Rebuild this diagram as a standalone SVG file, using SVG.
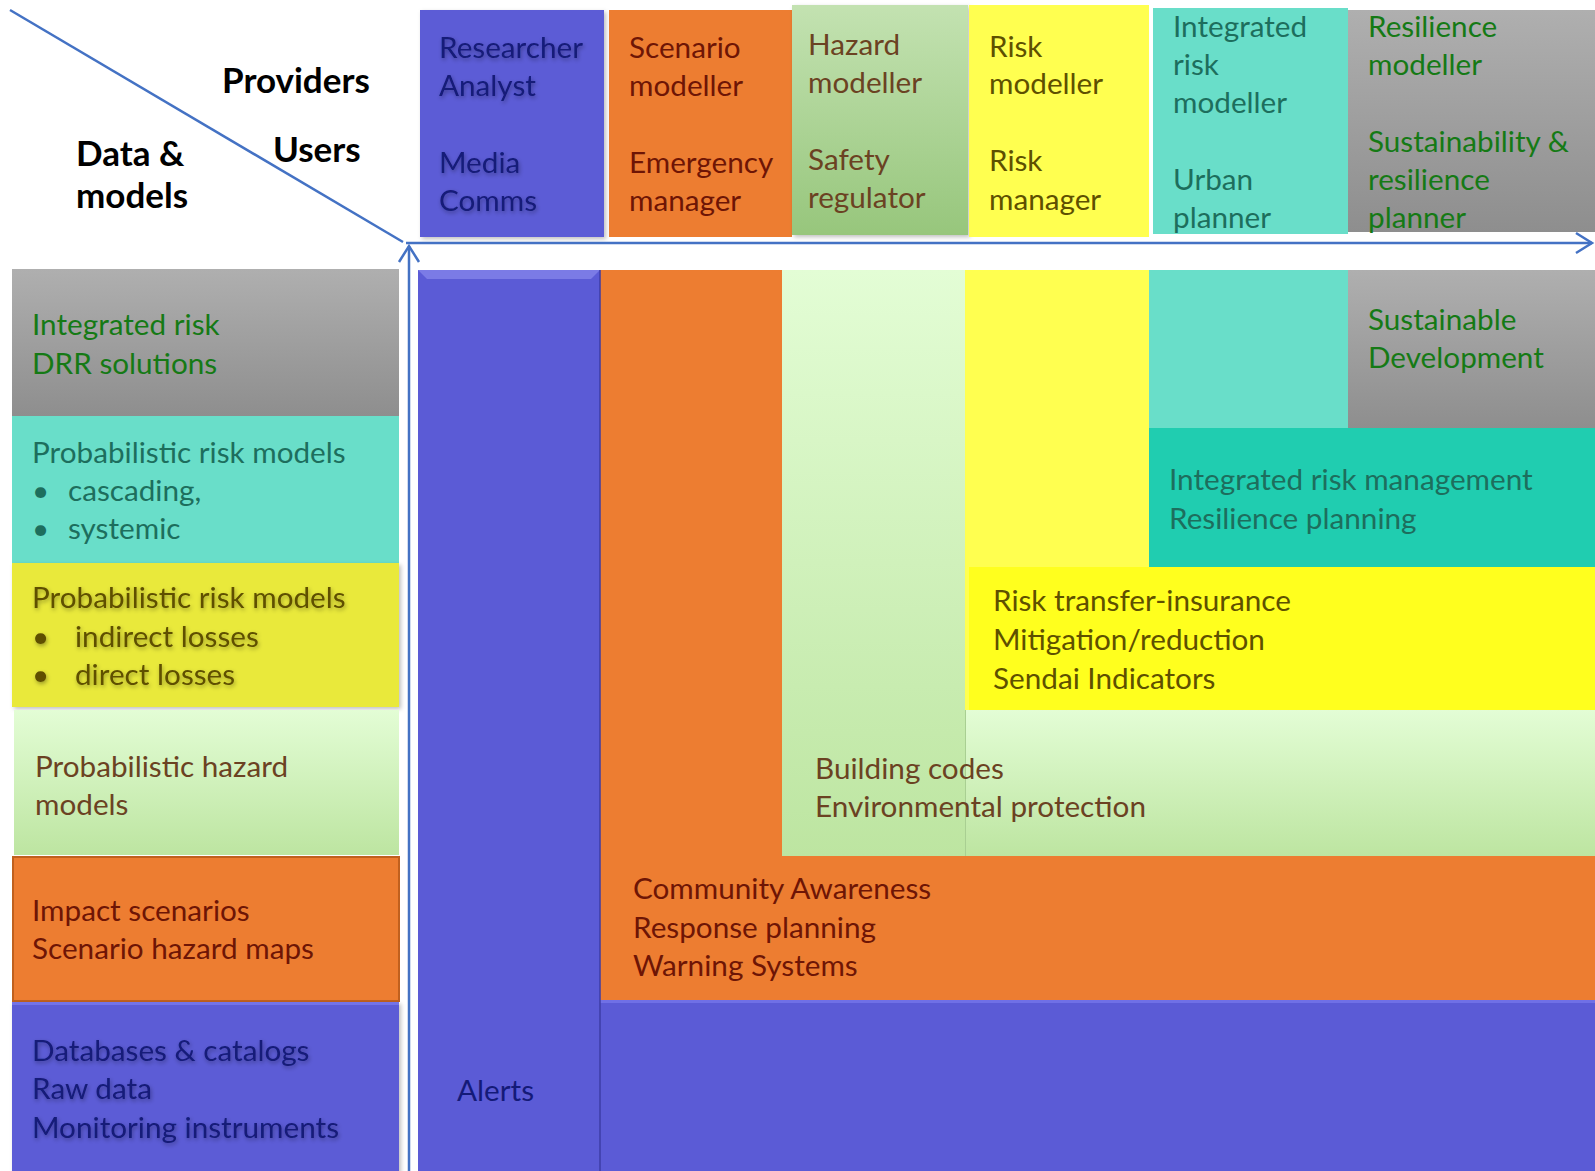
<svg xmlns="http://www.w3.org/2000/svg" width="1595" height="1171" viewBox="0 0 1595 1171">
<style>
text{font-family:Lato,"Liberation Sans","Noto Sans",sans-serif;font-size:29.7px}
.hd{font-weight:bold;font-size:35px;fill:#000}
.tb{fill:#141a78}
.to{fill:#6e1505}
.tg{fill:#6b4222}
.ty{fill:#5e5000}
.tc{fill:#1d6e5d}
.tgr{fill:#157a15}
.ax{stroke:#4472c4;stroke-width:2.5;fill:none}
</style>
<defs>
<linearGradient id="gGrey" x1="0" y1="0" x2="0" y2="1"><stop offset="0" stop-color="#afafaf"/><stop offset="1" stop-color="#8e8e8e"/></linearGradient>
<linearGradient id="gHz" x1="0" y1="0" x2="0" y2="1"><stop offset="0" stop-color="#c3e2b1"/><stop offset="1" stop-color="#97c67c"/></linearGradient>
<linearGradient id="gLg" x1="0" y1="0" x2="0" y2="1"><stop offset="0" stop-color="#e3fdd5"/><stop offset="1" stop-color="#bde5a1"/></linearGradient>
<filter id="sh" x="-5%" y="-5%" width="115%" height="115%"><feDropShadow dx="2" dy="2" stdDeviation="2" flood-color="#000" flood-opacity="0.25"/></filter>
<filter id="tglow" x="-5%" y="-20%" width="110%" height="150%"><feDropShadow dx="1" dy="2" stdDeviation="2" flood-color="#000" flood-opacity="0.35"/></filter>
<marker id="arr" markerUnits="userSpaceOnUse" markerWidth="22" markerHeight="26" refX="17" refY="11" orient="auto" overflow="visible"><path d="M1,1 L17,11 L1,21" fill="none" stroke="#4472c4" stroke-width="2.5"/></marker>
</defs>
<rect width="1595" height="1171" fill="#fff"/>

<g id="header-labels">
<text class="hd" x="222" y="93">Providers</text>
<text class="hd" x="273" y="162">Users</text>
<text class="hd" x="76" y="166">Data &amp;</text>
<text class="hd" x="76" y="208">models</text>
</g>

<g id="prov-researcher">
<rect x="420" y="10" width="184" height="227" fill="#5b5bd6" filter="url(#sh)"/>
<g class="tb" filter="url(#tglow)">
<text x="439" y="58">Researcher</text><text x="439" y="96">Analyst</text>
<text x="439" y="173">Media</text><text x="439" y="211">Comms</text>
</g>
</g>
<g id="prov-scenario">
<rect x="609" y="10" width="183" height="227" fill="#ed7d31"/>
<g class="to"><text x="629" y="58">Scenario</text><text x="629" y="96">modeller</text>
<text x="629" y="173">Emergency</text><text x="629" y="211">manager</text></g>
</g>
<g id="prov-hazard">
<rect x="792" y="5" width="176" height="230" fill="url(#gHz)" filter="url(#sh)"/>
<g class="tg"><text x="808" y="55">Hazard</text><text x="808" y="93">modeller</text>
<text x="808" y="170">Safety</text><text x="808" y="208">regulator</text></g>
</g>
<g id="prov-risk">
<rect x="969" y="5" width="180" height="232" fill="#ffff50"/>
<g class="ty"><text x="989" y="57">Risk</text><text x="989" y="94">modeller</text>
<text x="989" y="171">Risk</text><text x="989" y="210">manager</text></g>
</g>
<g id="prov-integrated">
<rect x="1153" y="8" width="195" height="226" fill="#69dec9"/>
<g class="tc"><text x="1173" y="37">Integrated</text><text x="1173" y="75">risk</text><text x="1173" y="113">modeller</text>
<text x="1173" y="190">Urban</text><text x="1173" y="228">planner</text></g>
</g>
<g id="prov-resilience">
<rect x="1348" y="10" width="247" height="222" fill="url(#gGrey)"/>
<g class="tgr"><text x="1368" y="37">Resilience</text><text x="1368" y="75">modeller</text>
<text x="1368" y="152">Sustainability &amp;</text><text x="1368" y="190">resilience</text><text x="1368" y="228">planner</text></g>
</g>

<g id="dm-integrated">
<rect x="12" y="269" width="387" height="147" fill="url(#gGrey)"/>
<g class="tgr"><text x="32" y="335">Integrated risk</text><text x="32" y="374">DRR solutions</text></g>
</g>
<g id="dm-prob-risk-systemic">
<rect x="12" y="416" width="387" height="147" fill="#69dec9"/>
<g class="tc"><text x="32" y="463">Probabilistic risk models</text>
<text x="32" y="501" font-size="26">•</text><text x="68" y="501">cascading,</text>
<text x="32" y="539" font-size="26">•</text><text x="68" y="539">systemic</text></g>
</g>
<g id="dm-prob-risk-losses">
<rect x="12" y="563" width="387" height="144" fill="#e9e93b" filter="url(#sh)"/>
<g class="ty" filter="url(#tglow)"><text x="32" y="608">Probabilistic risk models</text>
<text x="32" y="647" font-size="26">•</text><text x="75" y="647">indirect losses</text>
<text x="32" y="685" font-size="26">•</text><text x="75" y="685">direct losses</text></g>
</g>
<g id="dm-prob-hazard">
<rect x="14" y="710" width="385" height="145" fill="url(#gLg)"/>
<g class="tg"><text x="35" y="777">Probabilistic hazard</text><text x="35" y="815">models</text></g>
</g>
<g id="dm-impact">
<rect x="13" y="857" width="386" height="144" fill="#ed7d31" stroke="#c0601e" stroke-width="2"/>
<g class="to"><text x="32" y="921">Impact scenarios</text><text x="32" y="959">Scenario hazard maps</text></g>
</g>
<g id="dm-databases">
<rect x="12" y="1002" width="387" height="175" fill="#5b5bd6" filter="url(#sh)"/>
<rect x="12" y="1002" width="387" height="3" fill="#7373e8"/>
<g class="tb" filter="url(#tglow)"><text x="32" y="1061">Databases &amp; catalogs</text><text x="32" y="1099">Raw data</text><text x="32" y="1138">Monitoring instruments</text></g>
</g>

<g id="use-community">
<rect x="600" y="270" width="995" height="730" fill="#ed7d31"/>
<text class="to" x="633" y="899">Community Awareness</text>
<text class="to" x="633" y="938">Response planning</text>
<text class="to" x="633" y="976">Warning Systems</text>
</g>
<g id="use-building">
<rect x="782" y="270" width="183" height="586" fill="url(#gLg)"/>
<rect x="965" y="710" width="630" height="146" fill="url(#gLg)"/>
<line x1="965.5" y1="710" x2="965.5" y2="856" stroke="#a9cf92" stroke-width="1"/>
<text class="tg" x="815" y="779">Building codes</text>
<text class="tg" x="815" y="817">Environmental protection</text>
</g>
<g id="use-risk-transfer">
<rect x="965" y="270" width="184" height="440" fill="#ffff50"/>
<rect x="969" y="567" width="626" height="143" fill="#ffff1e"/>
<text class="ty" x="993" y="611">Risk transfer-insurance</text>
<text class="ty" x="993" y="650">Mitigation/reduction</text>
<text class="ty" x="993" y="689">Sendai Indicators</text>
</g>
<g id="use-integrated-mgmt">
<rect x="1149" y="270" width="199" height="158" fill="#69dec9"/>
<rect x="1149" y="428" width="446" height="139" fill="#20cdb0"/>
<text class="tc" x="1169" y="490">Integrated risk management</text>
<text class="tc" x="1169" y="529">Resilience planning</text>
</g>
<g id="use-sustainable">
<rect x="1348" y="270" width="247" height="158" fill="url(#gGrey)"/>
<text class="tgr" x="1368" y="330">Sustainable</text>
<text class="tgr" x="1368" y="368">Development</text>
</g>
<g id="use-alerts">
<rect x="600" y="1000" width="995" height="171" fill="#5b5bd6"/>
<rect x="600" y="1000" width="995" height="3" fill="#7070e6"/>
<rect x="418" y="270" width="182" height="901" fill="#5b5bd6"/>
<polygon points="418,270 600,270 591,279 427,279" fill="#7b7be6"/>
<line x1="600" y1="270" x2="600" y2="1171" stroke="#3c3ca6" stroke-width="1.5"/>
<text class="tb" x="457" y="1101">Alerts</text>
</g>

<g id="connectors">
<line class="ax" x1="10" y1="10" x2="403" y2="242"/>
<line class="ax" x1="406" y1="243" x2="1592" y2="243" marker-end="url(#arr)"/>
<line class="ax" x1="409" y1="1171" x2="409" y2="246" marker-end="url(#arr)"/>
</g>
</svg>
